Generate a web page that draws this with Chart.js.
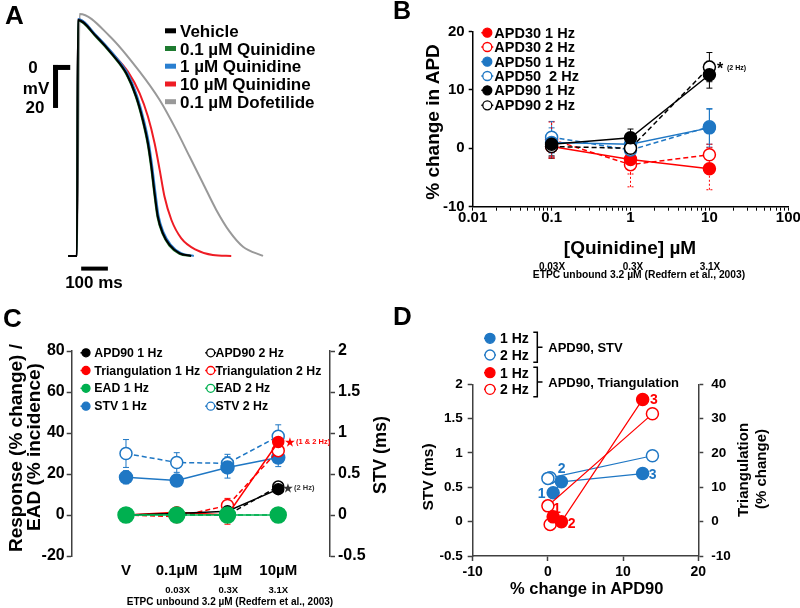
<!DOCTYPE html>
<html>
<head>
<meta charset="utf-8">
<script src="https://cdn.jsdelivr.net/npm/chart.js@4"></script>
<style>
  body { margin: 0; background: #fff; }
  #wrap { position: relative; width: 800px; height: 608px; overflow: hidden;
          font-family: "Liberation Sans", Arial, sans-serif; font-weight: bold; color: #000; }
  canvas { position: absolute; }
  .t { position: absolute; line-height: 1; white-space: pre; }
</style>
</head>
<body>
<div id="wrap">
  <canvas id="chartA" width="400" height="300" style="left:0;top:0"></canvas>
  <canvas id="chartB" width="400" height="300" style="left:400px;top:0"></canvas>
  <canvas id="chartC" width="400" height="308" style="left:0;top:300px"></canvas>
  <canvas id="chartD" width="400" height="308" style="left:400px;top:300px"></canvas>
  <svg id="deco" width="800" height="608" style="position:absolute;left:0;top:0"></svg>
</div>
<script>
// ---- panel A: action potentials (time ms, membrane potential mV)
const apVehicleT = [-33, 0, 4, 73, 135, 185, 222, 247, 266, 279, 291, 303, 322, 347, 385, 428];
const apVehicleV = [-88.8, -88.8, 20.9, 13.2, 4.6, -3.9, -14.7, -25.6, -36.4, -47.3, -59.7, -70.5, -78.3, -83.7, -87.6, -88.8];
const apQ01T = [-33, 0, 4, 72, 134, 184, 221, 246, 265, 278, 290, 302, 321, 346, 384, 428];
const apQ01V = [-88.8, -88.8, 20.7, 13.0, 4.4, -4.1, -15.0, -25.9, -36.8, -47.7, -60.1, -70.9, -78.6, -84.0, -87.8, -88.8];
const apQ1T = [-33, 0, 4, 74, 137, 188, 225, 250, 269, 282, 294, 306, 325, 351, 390, 438];
const apQ1V = [-88.8, -88.8, 21.4, 13.6, 5.0, -3.5, -14.3, -25.2, -36.0, -47.0, -59.3, -70.2, -78.0, -83.5, -87.5, -88.8];
const apQ10T = [-33, 0, 4, 73, 135, 191, 235, 266, 291, 310, 328, 354, 391, 447, 509, 578];
const apQ10V = [-88.8, -88.8, 21.2, 13.5, 5.1, -3.1, -13.2, -24.0, -36.4, -48.8, -61.2, -72.1, -80.6, -86.0, -88.4, -88.8];
const apDofT = [-33, 0, 10, 122, 235, 310, 372, 422, 472, 522, 572, 622, 697];
const apDofV = [-88.8, -88.8, 23.7, 13.5, -3.1, -16.3, -30.2, -42.6, -55.0, -67.4, -77.5, -84.5, -88.8];
const scaleBarMs = 100, scaleBarMv = 20;

// ---- panel B: % change in APD vs [quinidine]
const quinidineUM = [0.1, 1, 10];
const bTickValues = [0.01, 0.1, 1, 10, 100];
const bTickLabels = ['0.01', '0.1', '1', '10', '100'];
const apd30_1hz = [0.3, -1.9, -3.5];
const apd30_2hz = [1.5, -2.8, -1.1];
const apd50_1hz = [1.0, 0.7, 3.5];
const apd50_2hz = [1.9, -0.3, 3.7];
const apd90_1hz = [0.7, 1.8, 12.6];
const apd90_2hz = [0.3, 0.0, 13.9];
const apd30_1hzErr = [2.0, 2.5, 3.6];
const apd30_2hzErr = [3.0, 3.8, 1.8];
const apd50_1hzErr = [2.5, 1.5, 3.3];
const apd50_2hzErr = [2.7, 1.2, 3.0];
const apd90_1hzErr = [2.0, 1.5, 2.3];
const apd90_2hzErr = [2.0, 1.0, 2.5];

// ---- panel C: responses by treatment (V = vehicle)
const cLabels = ['V', '0.1µM', '1µM', '10µM'];
const cApd90_1hz = [0, ...apd90_1hz];
const cApd90_2hz = [0, ...apd90_2hz];
const tri_1hz = [0, 1.4, 0.0, 35.6];
const tri_2hz = [0, -0.8, 4.6, 31.4];
const ead_1hz = [0, 0, 0, 0];
const ead_2hz = [0, 0, 0, 0];
const stv_1hz = [0.46, 0.42, 0.58, 0.70];
const stv_2hz = [0.75, 0.64, 0.63, 0.96];
const stv_1hzErr = [0.08, 0.03, 0.13, 0.11];
const stv_2hzErr = [0.17, 0.12, 0.11, 0.14];
const tri_1hzErr = [0, 0.8, 4.5, 2.0];
const tri_2hzErr = [0, 0.8, 3.5, 3.0];
const cApd90_1hzErr = [0, 0.4, 1.2, 1.5];
const cApd90_2hzErr = [0, 0.4, 1.0, 2.0];

const RED = '#ff0000', BLUE = '#1f77c4', GREEN = '#00b050', BLACK = '#000000';
const FONT = '"Liberation Sans", Arial, sans-serif';
Chart.defaults.font.family = FONT;
Chart.defaults.font.weight = 'bold';
Chart.defaults.color = '#000';

const base = {
  responsive: false, animation: false, events: [],
  plugins: { legend: { display: false }, tooltip: { enabled: false } }
};

function series(label, xs, ys, color, open, dashed, extra) {
  return Object.assign({
    label,
    data: xs.map((x, i) => ({ x, y: ys[i] })),
    showLine: true,
    borderColor: color,
    backgroundColor: open ? '#fff' : color,
    pointBackgroundColor: open ? '#fff' : color,
    pointBorderColor: color,
    pointBorderWidth: 1.5,
    borderWidth: 1.5,
    borderDash: dashed ? [5, 3] : [],
    pointRadius: 6
  }, extra);
}

function fixW(w) { return s => { s.width = w; s.paddingTop = 0; s.paddingBottom = 0; }; }
function fixH(h) { return s => { s.height = h; s.paddingLeft = 0; s.paddingRight = 0; }; }
const plain = v => String(+v.toFixed(2));

// error bars drawn through the chart's own scales
const errorBars = {
  id: 'errorBars',
  beforeDatasetsDraw(chart) {
    const ctx = chart.ctx;
    chart.data.datasets.forEach((ds, i) => {
      if (!ds.errors) return;
      const meta = chart.getDatasetMeta(i);
      const xs = chart.scales[meta.xAxisID], ys = chart.scales[meta.yAxisID];
      ctx.save();
      ctx.strokeStyle = ds.borderColor;
      ctx.lineWidth = 1;
      ctx.setLineDash(ds.errorDash || []);
      ds.data.forEach((p, j) => {
        const e = ds.errors[j];
        if (!e) return;
        const x = xs.getPixelForValue(p.x);
        const y1 = ys.getPixelForValue(p.y - e), y2 = ys.getPixelForValue(p.y + e);
        ctx.beginPath();
        ctx.moveTo(x, y1); ctx.lineTo(x, y2);
        ctx.moveTo(x - 3, y1); ctx.lineTo(x + 3, y1);
        ctx.moveTo(x - 3, y2); ctx.lineTo(x + 3, y2);
        ctx.stroke();
      });
      ctx.restore();
    });
  }
};

// ---------- A
const scaleBars = {
  id: 'scaleBars',
  afterDatasetsDraw(chart) {
    const { ctx, scales: { x, y } } = chart;
    ctx.save();
    ctx.fillStyle = '#000';
    const x0 = x.getPixelForValue(16), x1 = x.getPixelForValue(16 + scaleBarMs);
    const yb = y.getPixelForValue(-94.7);
    ctx.fillRect(x0, yb - 2, x1 - x0, 4);
    const xv = x.getPixelForValue(-80), xa = x.getPixelForValue(-25);
    const v0 = y.getPixelForValue(0), v1 = y.getPixelForValue(-scaleBarMv);
    ctx.fillRect(xv - 2.5, v0, 5, v1 - v0);
    ctx.fillRect(xv - 2.5, v0, xa - xv + 2.5, 5);
    ctx.restore();
  }
};

function trace(label, ts, vs, color) {
  return {
    label, data: ts.map((t, i) => ({ x: t, y: vs[i] })), showLine: true,
    borderColor: color, borderWidth: 2, pointRadius: 0, cubicInterpolationMode: 'monotone'
  };
}

new Chart(document.getElementById('chartA'), {
  type: 'scatter',
  data: {
    datasets: [
      trace('Vehicle', apVehicleT, apVehicleV, '#000000'),
      trace('0.1 µM Quinidine', apQ01T, apQ01V, '#1e7b30'),
      trace('1 µM Quinidine', apQ1T, apQ1V, '#2a7fd0'),
      trace('10 µM Quinidine', apQ10T, apQ10V, '#ee1c24'),
      trace('0.1 µM Dofetilide', apDofT, apDofV, '#999999')
    ]
  },
  options: Object.assign({}, base, {
    layout: { padding: 0 },
    scales: {
      x: { type: 'linear', display: false, min: -288, max: 1210 },
      y: { type: 'linear', display: false, min: -109.3, max: 30.2 }
    }
  }),
  plugins: [scaleBars]
});

// ---------- B
new Chart(document.getElementById('chartB'), {
  type: 'scatter',
  data: {
    datasets: [
      series('APD90 1 Hz', quinidineUM, apd90_1hz, BLACK, false, false, { errors: apd90_1hzErr }),
      series('APD90 2 Hz', quinidineUM, apd90_2hz, BLACK, true, true, { errors: apd90_2hzErr }),
      series('APD50 1 Hz', quinidineUM, apd50_1hz, BLUE, false, false, { errors: apd50_1hzErr }),
      series('APD50  2 Hz', quinidineUM, apd50_2hz, BLUE, true, true, { errors: apd50_2hzErr }),
      series('APD30 1 Hz', quinidineUM, apd30_1hz, RED, false, false, { errors: apd30_1hzErr, errorDash: [2, 2] }),
      series('APD30 2 Hz', quinidineUM, apd30_2hz, RED, true, true, { errors: apd30_2hzErr, errorDash: [2, 2] })
    ]
  },
  options: Object.assign({}, base, {
    layout: { padding: { left: 22.7, right: 11.7, top: 31.5, bottom: 63.3 } },
    scales: {
      x: {
        type: 'logarithmic', min: 0.01, max: 100,
        grid: { drawOnChartArea: false, tickLength: 4, color: '#000', tickWidth: 1 },
        border: { color: '#000', width: 1.5 },
        ticks: {
          autoSkip: false, maxRotation: 0, padding: 0,
          font: { size: 15, weight: 'bold', lineHeight: 1 },
          callback: v => {
            const i = bTickValues.findIndex(d => Math.abs(d - v) / d < 1e-6);
            return i >= 0 ? bTickLabels[i] : '';
          }
        },
        afterBuildTicks: s => {
          const t = [];
          bTickValues.slice(0, -1).forEach(d => { for (let k = 1; k < 10; k++) t.push({ value: d * k }); });
          t.push({ value: bTickValues[bTickValues.length - 1] });
          s.ticks = t;
        },
        afterFit: fixH(30)
      },
      y: {
        min: -10, max: 20,
        grid: { drawOnChartArea: false, tickLength: 4, color: '#000', tickWidth: 1.5 },
        border: { color: '#000', width: 1.5 },
        ticks: { stepSize: 10, padding: 4, font: { size: 15, weight: 'bold' } },
        afterFit: fixW(50)
      }
    }
  }),
  plugins: [errorBars]
});

// ---------- C
const cIdx = cLabels.map((_, i) => i);
new Chart(document.getElementById('chartC'), {
  type: 'scatter',
  data: {
    datasets: [
      series('EAD 1 Hz', cIdx, ead_1hz, GREEN, false, false, { pointRadius: 8 }),
      series('EAD 2 Hz', cIdx, ead_2hz, GREEN, true, true, { pointRadius: 6 }),
      series('APD90 1 Hz', cIdx, cApd90_1hz, BLACK, false, false, { pointRadius: 5.5, errors: cApd90_1hzErr }),
      series('APD90 2 Hz', cIdx, cApd90_2hz, BLACK, true, true, { pointRadius: 5.5, errors: cApd90_2hzErr }),
      series('Triangulation 1 Hz', cIdx, tri_1hz, RED, false, false, { pointRadius: 5.5, errors: tri_1hzErr }),
      series('Triangulation 2 Hz', cIdx, tri_2hz, RED, true, true, { pointRadius: 6, errors: tri_2hzErr }),
      series('STV 1 Hz', cIdx, stv_1hz, BLUE, false, false, { yAxisID: 'y2', pointRadius: 6.5, errors: stv_1hzErr }),
      series('STV 2 Hz', cIdx, stv_2hz, BLUE, true, true, { yAxisID: 'y2', pointRadius: 6, errors: stv_2hzErr })
    ]
  },
  options: Object.assign({}, base, {
    layout: { padding: { left: 21.7, right: 20, top: 51, bottom: 27 } },
    scales: {
      x: {
        type: 'linear', min: -1.07, max: 4.02,
        grid: { display: false, drawTicks: false },
        border: { display: false },
        ticks: { autoSkip: false, maxRotation: 0, padding: 7.5,
                 font: { size: 15, weight: 'bold', lineHeight: 1 }, callback: v => cLabels[v] },
        afterBuildTicks: s => { s.ticks = cIdx.map(i => ({ value: i })); },
        afterFit: fixH(25)
      },
      y: {
        min: -20, max: 80,
        grid: { drawOnChartArea: false, tickLength: 5, color: '#404040', tickWidth: 1.5 },
        border: { color: '#404040', width: 1.5 },
        ticks: { stepSize: 20, padding: 2, font: { size: 16, weight: 'bold' } },
        afterFit: fixW(50)
      },
      y2: {
        position: 'right', min: -0.5, max: 2,
        grid: { drawOnChartArea: false, tickLength: 5, color: '#404040', tickWidth: 1.5 },
        border: { color: '#404040', width: 1.5 },
        ticks: { stepSize: 0.5, padding: 3, font: { size: 16, weight: 'bold' }, callback: plain },
        afterFit: fixW(50)
      }
    }
  }),
  plugins: [errorBars]
});

// ---------- D (drug concentrations only)
const thin = { borderWidth: 1.2, pointRadius: 6 };
new Chart(document.getElementById('chartD'), {
  type: 'scatter',
  data: {
    datasets: [
      series('Tri 1 Hz', apd90_1hz, tri_1hz.slice(1), RED, false, false, Object.assign({ yAxisID: 'y2' }, thin)),
      series('Tri 2 Hz', apd90_2hz, tri_2hz.slice(1), RED, true, false, Object.assign({ yAxisID: 'y2' }, thin)),
      series('STV 1 Hz', apd90_1hz, stv_1hz.slice(1), BLUE, false, false, thin),
      series('STV 2 Hz', apd90_2hz, stv_2hz.slice(1), BLUE, true, false, thin)
    ]
  },
  options: Object.assign({}, base, {
    layout: { padding: { left: 22.7, right: 51.7, top: 84.3, bottom: 22 } },
    scales: {
      x: {
        min: -10, max: 20,
        grid: { drawOnChartArea: false, tickLength: 5, color: '#404040', tickWidth: 1.5 },
        border: { color: '#404040', width: 1.5 },
        ticks: { stepSize: 10, padding: 4, font: { size: 14, weight: 'bold', lineHeight: 1 } },
        afterFit: fixH(30)
      },
      y: {
        min: -0.5, max: 2,
        grid: { drawOnChartArea: false, tickLength: 5, color: '#404040', tickWidth: 1.5 },
        border: { color: '#404040', width: 1.5 },
        ticks: { stepSize: 0.5, padding: 5, font: { size: 13.5, weight: 'bold' }, callback: plain },
        afterFit: fixW(50)
      },
      y2: {
        position: 'right', min: -10, max: 40,
        grid: { drawOnChartArea: false, tickLength: 5, color: '#404040', tickWidth: 1.5 },
        border: { color: '#404040', width: 1.5 },
        ticks: { stepSize: 10, padding: 8, font: { size: 13.5, weight: 'bold' } },
        afterFit: fixW(50)
      }
    }
  })
});

// ---------- text
const wrap = document.getElementById('wrap');
function txt(s, x, y, size, align, color, rot) {
  const d = document.createElement('div');
  d.className = 't';
  d.textContent = s;
  d.style.left = x + 'px';
  d.style.top = y + 'px';
  d.style.fontSize = size + 'px';
  const tx = rot ? '-50%' : align === 'center' ? '-50%' : align === 'right' ? '-100%' : '0';
  d.style.transform = 'translate(' + tx + ',-50%)' + (rot ? ' rotate(-90deg)' : '');
  if (color) d.style.color = color;
  wrap.appendChild(d);
}

// panel letters
txt('A', 5, 15, 26);
txt('B', 393, 10, 25);
txt('C', 3, 317.5, 26);
txt('D', 393, 316, 26);

// A
const aLegend = ['Vehicle', '0.1 µM Quinidine', '1 µM Quinidine', '10 µM Quinidine', '0.1 µM Dofetilide'];
const aColors = ['#000000', '#1e7b30', '#2a7fd0', '#ee1c24', '#999999'];
const aRows = [30.8, 48.5, 66.2, 84, 101.7];
aLegend.forEach((s, i) => txt(s, 180, aRows[i], 17));
txt('0', 33, 67, 17, 'center');
txt('mV', 36, 87.5, 17, 'center');
txt('20', 35, 107, 17, 'center');
txt('100 ms', 94, 281.7, 17, 'center');

// B
const bLegend = [['APD30 1 Hz', RED, false], ['APD30 2 Hz', RED, true], ['APD50 1 Hz', BLUE, false],
                 ['APD50  2 Hz', BLUE, true], ['APD90 1 Hz', BLACK, false], ['APD90 2 Hz', BLACK, true]];
const bRows = [32.7, 47, 61.7, 76, 90.3, 105.3];
bLegend.forEach((r, i) => txt(r[0], 494.3, bRows[i], 14.5));
txt('% change in APD', 432, 121.7, 19, 'center', null, true);
txt('[Quinidine] µM', 630, 246.7, 19, 'center');
txt('0.03X', 552, 267, 10, 'center');
txt('0.3X', 633, 267, 10, 'center');
txt('3.1X', 710, 267, 10, 'center');
txt('ETPC unbound 3.2 µM (Redfern et al., 2003)', 639, 275, 10.3, 'center');
txt('*', 720, 69, 16, 'center');
txt('(2 Hz)', 727, 66.5, 7);

// C
const cLegend = [['APD90 1 Hz', BLACK, false, 0], ['APD90 2 Hz', BLACK, true, 0],
                 ['Triangulation 1 Hz', RED, false, 1], ['Triangulation 2 Hz', RED, true, 1],
                 ['EAD 1 Hz', GREEN, false, 2], ['EAD 2 Hz', GREEN, true, 2],
                 ['STV 1 Hz', BLUE, false, 3], ['STV 2 Hz', BLUE, true, 3]];
const cRows = [352.8, 370.5, 388.3, 406.2];
cLegend.forEach(r => txt(r[0], r[2] ? 215.5 : 94.3, cRows[r[3]], 12.3));
txt('Response (% change) /', 15, 448, 19, 'center', null, true);
txt('EAD (% incidence)', 33, 447, 19, 'center', null, true);
txt('STV (ms)', 380, 455, 18, 'center', null, true);
txt('0.03X', 177.7, 590, 9.5, 'center');
txt('0.3X', 228.3, 590, 9.5, 'center');
txt('3.1X', 278.3, 590, 9.5, 'center');
txt('ETPC unbound 3.2 µM (Redfern et al., 2003)', 230, 601.7, 10, 'center');
txt('★', 290, 441.7, 11, 'center', RED);
txt('(1 & 2 Hz)', 296, 441.7, 7.5, 'left', RED);
txt('★', 288, 487.7, 11, 'center', '#333');
txt('(2 Hz)', 294, 487.7, 7.5, 'left', '#333');

// D
txt('1 Hz', 500, 338.3, 14);
txt('2 Hz', 500, 355, 14);
txt('1 Hz', 500, 372.7, 14);
txt('2 Hz', 500, 389.3, 14);
txt('APD90, STV', 548.3, 347.3, 13);
txt('APD90, Triangulation', 548.3, 382.3, 13);
txt('1', 541.7, 492.7, 14, 'center', BLUE);
txt('2', 561.7, 468.3, 14, 'center', BLUE);
txt('3', 652.7, 474, 14, 'center', BLUE);
txt('1', 557, 508.3, 14, 'center', RED);
txt('2', 571.7, 522.7, 14, 'center', RED);
txt('3', 654, 399.3, 14, 'center', RED);
txt('STV (ms)', 427.5, 477, 15.5, 'center', null, true);
txt('Triangulation', 741.7, 470, 15, 'center', null, true);
txt('(% change)', 760, 469, 15, 'center', null, true);
txt('% change in APD90', 586.7, 588.3, 16.5, 'center');

// ---------- legend markers and brackets
let svg = '';
aRows.forEach((y, i) => { svg += `<rect x="165" y="${y - 2.5}" width="11" height="5" fill="${aColors[i]}"/>`; });
function mark(x, y, color, open, half, r) {
  let s = `<line x1="${x - half}" y1="${y}" x2="${x + (open ? half : 0)}" y2="${y}" stroke="${color}" stroke-width="1.5"/>`;
  s += `<circle cx="${x}" cy="${y}" r="${r}" fill="${open ? '#fff' : color}" stroke="${color}" stroke-width="1.3"/>`;
  return s;
}
bLegend.forEach((r, i) => { svg += mark(487.3, bRows[i], r[1], r[2], 6, 4.5); });
cLegend.forEach(r => { svg += mark(r[2] ? 210.7 : 86, cRows[r[3]], r[1], r[2], 5.5, 4); });
[[338.3, BLUE, false], [355, BLUE, true], [372.7, RED, false], [389.3, RED, true]]
  .forEach(r => { svg += mark(490, r[0], r[1], r[2], 6, 5); });
function bracket(y0, y1) {
  const ym = (y0 + y1) / 2;
  return `<path d="M533.3 ${y0} H537.3 V${y1} H533.3 M537.3 ${ym} H542.5" fill="none" stroke="#000" stroke-width="1.5"/>`;
}
svg += bracket(332.3, 362.3) + bracket(367.3, 396.7);
document.getElementById('deco').innerHTML = svg;
</script>
</body>
</html>
